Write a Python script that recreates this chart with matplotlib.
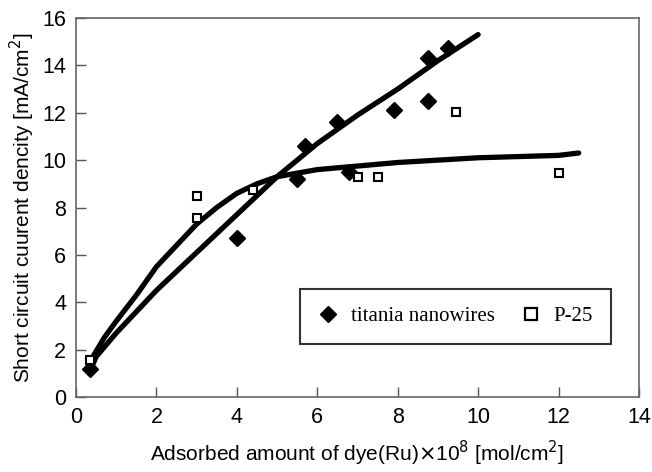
import matplotlib
matplotlib.use("Agg")
import matplotlib.pyplot as plt
from matplotlib.lines import Line2D

# titania nanowires (filled diamonds)
tn_x = [0.35, 4.0, 5.5, 5.7, 6.5, 6.8, 7.9, 8.75, 8.75, 9.25]
tn_y = [1.2, 6.7, 9.2, 10.6, 11.6, 9.5, 12.1, 14.3, 12.5, 14.75]

# P-25 (open squares)
p_x = [0.35, 3.0, 3.0, 4.4, 7.0, 7.5, 9.45, 12.0]
p_y = [1.55, 8.5, 7.55, 8.75, 9.3, 9.3, 12.05, 9.45]

# trend curves
tn_cx = [0.35, 0.5, 1.0, 2.0, 3.0, 4.0, 5.0, 6.0, 7.0, 8.0, 9.0, 10.0]
tn_cy = [1.1, 1.7, 2.7, 4.5, 6.1, 7.7, 9.3, 10.7, 11.9, 13.0, 14.2, 15.3]
p_cx = [0.35, 0.7, 1.0, 1.5, 2.0, 2.5, 3.0, 3.5, 4.0, 4.5, 5.0, 6.0, 7.0, 8.0, 9.0, 10.0, 11.0, 12.0, 12.5]
p_cy = [1.5, 2.5, 3.2, 4.3, 5.5, 6.4, 7.3, 8.0, 8.6, 9.0, 9.3, 9.6, 9.75, 9.9, 10.0, 10.1, 10.15, 10.2, 10.3]

xticks = [0, 2, 4, 6, 8, 10, 12, 14]
yticks = [0, 2, 4, 6, 8, 10, 12, 14, 16]

fig = plt.figure(figsize=(6.52, 4.72), dpi=100)
ax = fig.add_axes([76/652, 1 - 397/472, (639-76)/652, (397-18)/472])

ax.plot(tn_cx, tn_cy, color='black', lw=3.8, solid_capstyle='round', zorder=2)
ax.plot(p_cx, p_cy, color='black', lw=3.8, solid_capstyle='round', zorder=2)
ax.plot(tn_x, tn_y, linestyle='none', marker='D', markersize=8.5, color='black', zorder=3)
ax.plot(p_x, p_y, linestyle='none', marker='s', markersize=6.3, markerfacecolor='white',
        markeredgecolor='black', markeredgewidth=1.5, zorder=3)

ax.set_xlim(0, 14)
ax.set_ylim(0, 16)
ax.set_xticks(xticks)
ax.set_yticks(yticks)
tickfont = {'family': 'Liberation Sans', 'size': 15.5}
ax.set_xticklabels([str(v) for v in xticks], fontdict=tickfont)
ax.set_yticklabels([str(v) for v in yticks], fontdict=tickfont)
ax.tick_params(direction='in', length=7, width=1, color='#555555', pad=7)
for s in ax.spines.values():
    s.set_color('#666666')
    s.set_linewidth(1.2)

ax.set_xlabel('Adsorbed amount of dye(Ru)$\\times$10$^{8}$ [mol/cm$^{2}$]',
              family='Liberation Sans', size=15, labelpad=8)
ax.set_ylabel('Short circuit cuurent dencity [mA/cm$^{2}$]',
              family='Liberation Sans', size=15, labelpad=4)

handles = [Line2D([], [], linestyle='none', marker='D', markersize=8.5, color='black'),
           Line2D([], [], linestyle='none', marker='s', markersize=8.5, markerfacecolor='white',
                  markeredgecolor='black', markeredgewidth=1.6)]
leg = ax.legend(handles, ['titania nanowires', 'P-25'], ncol=2,
                loc='center', bbox_to_anchor=(0.674, 0.212),
                prop={'family': 'Liberation Serif', 'size': 15},
                frameon=True, fancybox=False, edgecolor='black',
                handlelength=1.0, handletextpad=0.6, columnspacing=1.2,
                borderpad=0.85)
leg.get_frame().set_linewidth(1.5)

fig.savefig('out.png', dpi=100)
